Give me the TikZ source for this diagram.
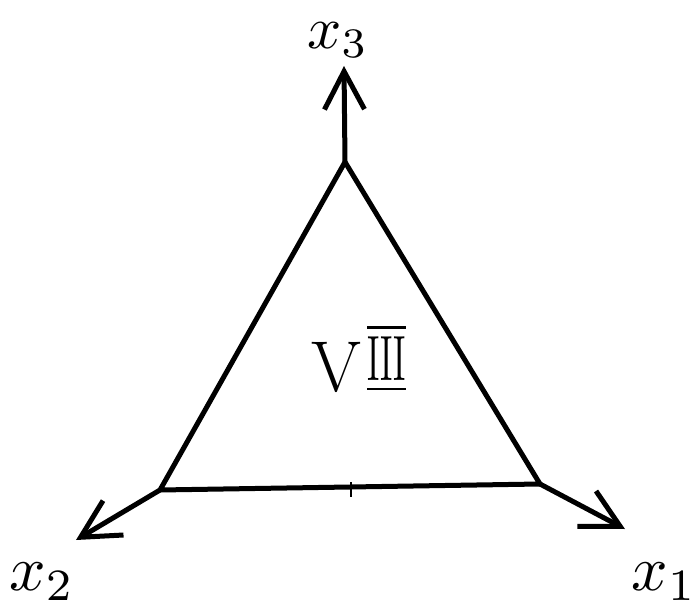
\documentclass[tikz,border=0pt]{standalone}
\usetikzlibrary{arrows.meta}
\usepackage{graphicx}
\begin{document}
\begin{tikzpicture}[x=1pt,y=-1pt,
  edge/.style={line width=5pt,line cap=round,line join=round},
  axis/.style={edge,-{Straight Barb[length=38pt,width=40pt,line width=5pt]}},
  lab/.style={inner sep=0pt},
  roman/.style={inner sep=0pt,font=\fontsize{72}{72}\selectfont}]
\useasboundingbox (0,0) rectangle (699,612);
\coordinate (A) at (345,162);
\coordinate (B) at (160,490);
\coordinate (C) at (540,484);
\coordinate (TA) at (344,66);
\coordinate (TB) at (76,540);
\coordinate (TC) at (625,529);
\draw[edge] (A) -- (B) -- (C) -- cycle;
\draw[axis] (A) -- (TA);
\draw[axis] (B) -- (TB);
\draw[axis] (C) -- (TC);
\coordinate (M1) at (351,482);
\coordinate (M2) at (351,497);
\draw[line width=2pt] (M1) -- (M2);
\node[lab] (x3) at (338,40) {\scalebox{6}{$x_3$}};
\node[lab] (x2) at (42,582) {\scalebox{6.4}{$x_2$}};
\node[lab,anchor=east] (x1) at (697,582) {\scalebox{6.4}{$x_1$}};
\node[roman,anchor=south] (v) at (336,393) {V};
\node[lab,anchor=south west] (iii) at (367,393) {\scalebox{3.4}[6.4]{$\overline{\underline{\mathrm{III}}}$}};
\end{tikzpicture}
\end{document}
